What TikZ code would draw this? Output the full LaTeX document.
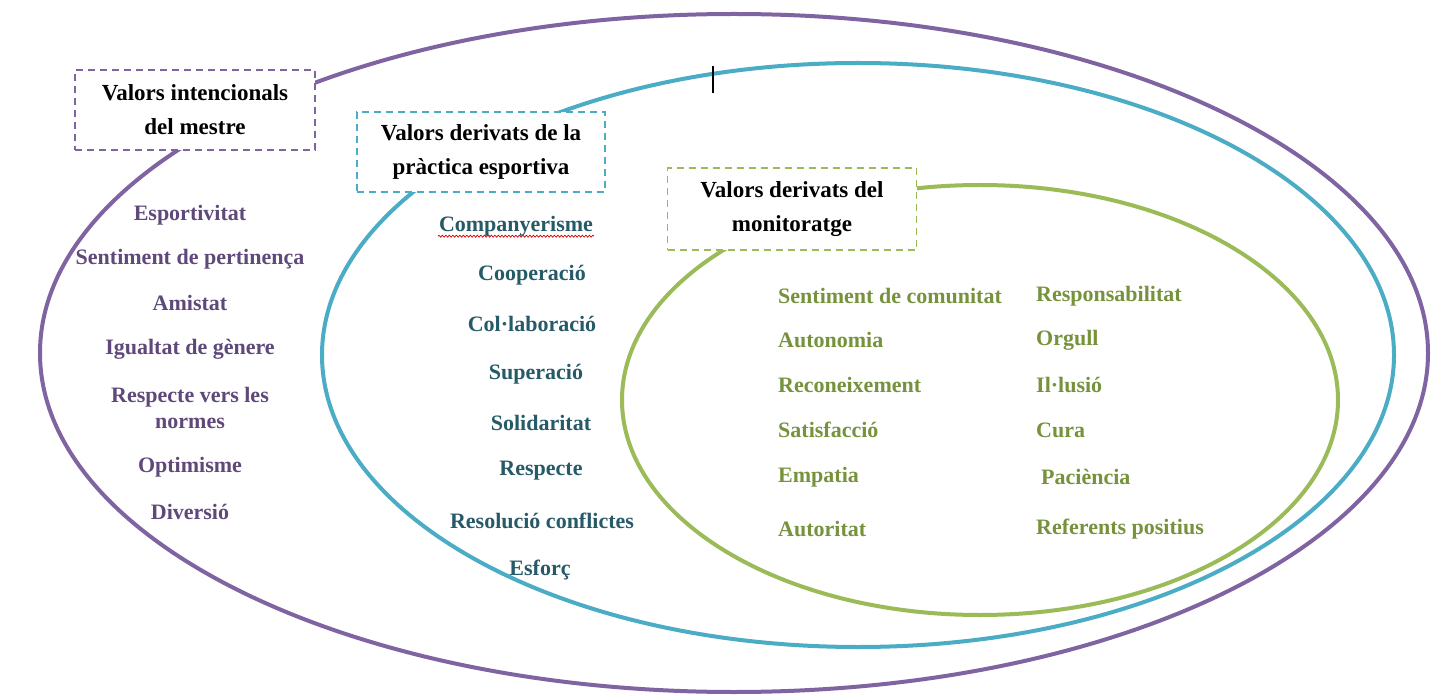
\documentclass[tikz,border=0pt]{standalone}
\usepackage{fontspec}
\setmainfont{Liberation Serif}
\usetikzlibrary{decorations.pathmorphing}
\definecolor{violetline}{HTML}{8064A2}
\definecolor{aqualine}{HTML}{4BACC6}
\definecolor{oliveline}{HTML}{9BBB59}
\definecolor{violettext}{HTML}{5F497A}
\definecolor{aquatext}{HTML}{265A68}
\definecolor{olivetext}{HTML}{76923C}
\begin{document}
\begin{tikzpicture}[x=1pt,y=-1pt,
  ring/.style={line width=4pt},
  headbox/.style={draw=#1, dash pattern=on 7pt off 5pt, line width=1.5pt, fill=white,
    minimum width=240pt, minimum height=80pt, align=center, inner sep=0pt,
    font=\fontsize{23}{34}\selectfont\bfseries, text=black},
  item/.style={inner sep=1pt, align=center, font=\fontsize{22}{26}\selectfont\bfseries},
  vitem/.style={item, text=violettext},
  aitem/.style={item, text=aquatext},
  oitem/.style={item, text=olivetext, anchor=west}]
\useasboundingbox (0,0) rectangle (1432,700);
\fill[white] (0,0) rectangle (1432,700);

% nested value sets
\draw[ring, violetline] (734,353) ellipse [x radius=694, y radius=339];
\draw[ring, aqualine] (858,355) ellipse [x radius=536, y radius=292];
\draw[ring, oliveline] (980,400) ellipse [x radius=358, y radius=215];

% cursor mark on the blue ring
\coordinate (m1) at (713,66);
\coordinate (m2) at (713,93);
\draw[black, line width=2.5pt] (m1) -- (m2);

% headings
\node[headbox=violetline] (hv) at (195,110) {Valors intencionals\\del mestre};
\node[headbox=aqualine, minimum width=248pt] (ha) at (481,152) {Valors derivats de la\\pràctica esportiva};
\node[headbox=oliveline, minimum width=249pt, minimum height=82pt] (ho) at (792,209) {Valors derivats del\\monitoratge};

% teacher's intentional values
\node[vitem] (v1) at (190,215) {Esportivitat};
\node[vitem] (v2) at (190,259) {Sentiment de pertinença};
\node[vitem] (v3) at (190,303) {Amistat};
\node[vitem] (v4) at (190,349) {Igualtat de gènere};
\node[vitem] (v5) at (190,408) {Respecte vers les\\normes};
\node[vitem] (v6) at (190,467) {Optimisme};
\node[vitem] (v7) at (190,512) {Diversió};

% values from sports practice
\node[aitem] (a1) at (516,226) {Companyerisme};
\node[aitem] (a2) at (532,275) {Cooperació};
\node[aitem] (a3) at (532,324) {Col·laboració};
\node[aitem] (a4) at (536,374) {Superació};
\node[aitem] (a5) at (541,423) {Solidaritat};
\node[aitem] (a6) at (541,471) {Respecte};
\node[aitem] (a7) at (542,521) {Resolució conflictes};
\node[aitem] (a8) at (540,570) {Esforç};
\draw[red!80!black, line width=0.7pt, decorate, decoration={snake, amplitude=1pt, segment length=3.5pt}]
  ([yshift=1pt]a1.south west) -- ([yshift=1pt]a1.south east);

% values from monitoring
\node[oitem] (o1) at (777,296) {Sentiment de comunitat};
\node[oitem] (o2) at (777,340) {Autonomia};
\node[oitem] (o3) at (777,385) {Reconeixement};
\node[oitem] (o4) at (777,430) {Satisfacció};
\node[oitem] (o5) at (777,477) {Empatia};
\node[oitem] (o6) at (777,529) {Autoritat};
\node[oitem] (o7) at (1035,296) {Responsabilitat};
\node[oitem] (o8) at (1035,340) {Orgull};
\node[oitem] (o9) at (1035,385) {Il·lusió};
\node[oitem] (o10) at (1035,430) {Cura};
\node[oitem] (o11) at (1040,477) {Paciència};
\node[oitem] (o12) at (1035,529) {Referents positius};
\end{tikzpicture}
\end{document}
